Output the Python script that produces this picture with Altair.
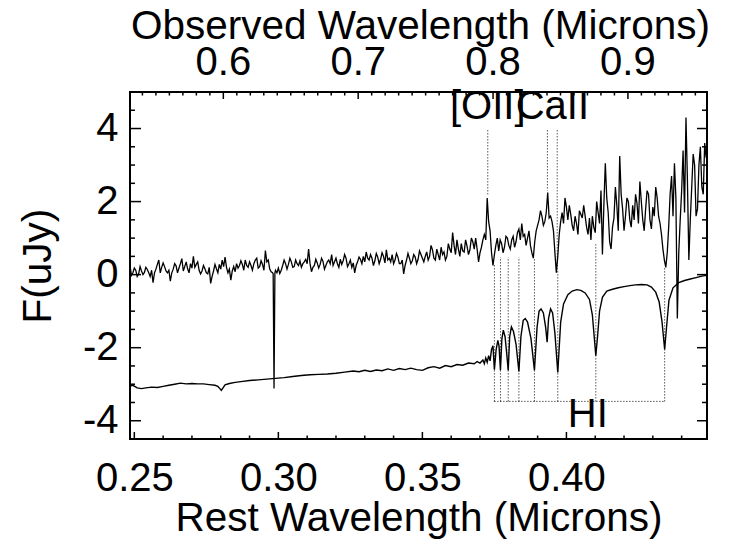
import altair as alt
import pandas as pd

# ---------------- data ----------------
REST_START = 0.2485          # first sample of the observed spectrum (rest microns)
REST_STEP = 0.001            # sampling of the observed spectrum
UPPER_FLUX = [
    0.25, 0.05, 0.12, 0.02, 0.10, 0.06, 0.14, -0.05, -0.22, 0.15,
    0.40, 0.20, 0.22, 0.05, -0.18, 0.15, 0.24, 0.18, 0.44, 0.22,
    0.16, 0.30, 0.50, 0.28, 0.12, 0.10, 0.16, 0.02, -0.24, 0.10,
    0.16, 0.28, 0.40, 0.48, 0.05, -0.15, 0.22, 0.30, 0.25, 0.28,
    0.40, 0.20, 0.25, 0.30, 0.45, 0.22, 0.28, 0.66, 0.40, 0.08,
    -3.12, 0.05, 0.03, 0.25, 0.30, 0.28, 0.35, 0.22, 0.30, 0.38,
    0.30, 0.42, 0.70, 0.08, 0.25, 0.32, 0.28, 0.36, 0.25, 0.40,
    0.55, 0.35, 0.30, 0.42, 0.38, 0.45, 0.30, 0.20, 0.05, 0.35,
    0.42, 0.50, 0.62, 0.40, 0.45, 0.38, 0.48, 0.42, 0.50, 0.68,
    0.45, 0.55, 0.40, 0.48, 0.30, 0.02, 0.40, 0.45, 0.38, 0.48,
    0.42, 0.55, 0.35, 0.62, 0.50, 0.68, 0.40, 0.55, 0.75, 0.62,
    0.50, 0.70, 1.15, 0.55, 0.70, 0.85, 0.62, 0.78, 0.68, 0.90,
    1.00, 0.35, 0.75, 1.10, 2.10, 1.20, 0.25, 0.80, 0.65, 0.85,
    0.75, 1.00, 0.70, 1.05, 0.90, 1.25, 1.40, 1.10, 1.00, 0.80,
    0.45, 1.20, 1.50, 1.60, 1.45, 2.25, 1.60, 1.20, 0.05, 1.10,
    1.70, 2.10, 1.50, 1.65, 1.20, 1.40, 1.75, 1.55, 1.60, 1.10,
    0.95, 1.30, 2.00, 1.40, 0.55, 3.05, 1.70, 0.70, 1.55, 1.90,
    3.25, 1.80, 1.60, 2.00, 1.30, 1.50, 1.95, 2.55, 1.50, 1.80,
    2.20, 1.25, 1.60, 2.10, 1.40, 0.70, 0.20, 1.30, 2.70, 3.05,
    -1.20, 1.50, 3.40, 4.30, 0.40, 2.40, 3.00, 1.80, 3.50, 2.20, 3.20,
]
# samples half-way between the ones above (the spectrum is finely sampled)
UPPER_FLUX_HALF = [
    -0.02, 0.18, -0.05, 0.22, 0.00, 0.20, 0.05, 0.12, 0.05, 0.28,
    0.05, 0.32, 0.10, 0.12, 0.05, 0.30, 0.05, 0.30, 0.10, 0.35,
    0.05, 0.18, 0.20, 0.35, 0.02, 0.25, 0.05, 0.20, -0.05, 0.28,
    0.05, 0.15, 0.22, 0.20, 0.15, 0.10, 0.08, 0.18, 0.38, 0.12,
    0.25, 0.35, 0.12, 0.40, 0.18, 0.38, 0.12, 0.35, 0.15, 0.05,
    0.12, 0.18, 0.12, 0.40, 0.15, 0.45, 0.20, 0.40, 0.25, 0.20,
    0.35, 0.30, 0.30, 0.20, 0.42, 0.18, 0.45, 0.15, 0.35, 0.30,
    0.25, 0.45, 0.20, 0.28, 0.55, 0.22, 0.40, 0.32, 0.25, 0.48,
    0.30, 0.35, 0.45, 0.55, 0.25, 0.58, 0.30, 0.60, 0.32, 0.40,
    0.35, 0.30, 0.58, 0.30, 0.40, 0.25, 0.58, 0.30, 0.55, 0.30,
    0.65, 0.45, 0.50, 0.40, 0.80, 0.45, 0.70, 0.40, 0.55, 0.40,
    0.85, 0.60, 0.80, 0.95, 0.50, 0.65, 0.95, 0.55, 1.00, 0.70,
    0.70, 0.60, 0.95, 0.95, 1.45, 0.60, 0.55, 1.00, 0.95, 0.60,
    1.05, 0.80, 0.95, 0.75, 1.15, 0.95, 1.05, 0.80, 1.20, 0.60,
    0.90, 1.35, 1.75, 1.35, 1.70, 1.55, 1.45, 0.60, 0.50, 1.45,
    1.40, 1.85, 1.90, 1.35, 1.60, 1.10, 1.65, 1.90, 1.30, 1.55,
    1.60, 1.15, 1.70, 2.30, 1.90, 2.10, 0.90, 1.30, 2.40, 1.20,
    2.20, 1.20, 2.10, 1.50, 1.90, 2.20, 1.40, 2.00, 1.20, 2.30,
    1.50, 1.85, 2.40, 1.60, 1.10, 0.40, 0.60, 2.20, 1.60, 2.10,
    0.60, 2.30, 1.70, 2.60, 1.50, 3.30, 1.60, 3.00, 2.40, 3.60,
]
SPIKE_WL = [0.2982, 0.2988]
SPIKE_FLUX = [0.02, 0.04]

LOWER_WL = [
    0.2485, 0.2495, 0.2510, 0.2525, 0.2540, 0.2560, 0.2580, 0.2600, 0.2620, 0.2640,
    0.2660, 0.2680, 0.2700, 0.2720, 0.2740, 0.2760, 0.2780, 0.2790, 0.2797, 0.2802,
    0.2808, 0.2815, 0.2830, 0.2850, 0.2870, 0.2900, 0.2930, 0.2960, 0.2990, 0.3020,
    0.3050, 0.3080, 0.3110, 0.3140, 0.3170, 0.3200, 0.3230, 0.3260, 0.3280, 0.3300,
    0.3320, 0.3340, 0.3360, 0.3380, 0.3400, 0.3420, 0.3440, 0.3460, 0.3480, 0.3500,
    0.3520, 0.3540, 0.3560, 0.3580, 0.3600, 0.3620, 0.3640, 0.3660, 0.3680, 0.3690,
    0.3700, 0.3710, 0.3715, 0.3720, 0.3725, 0.3730, 0.3735, 0.3740, 0.3745, 0.3750,
    0.3756, 0.3762, 0.3766, 0.3771, 0.3776, 0.3781, 0.3787, 0.3792, 0.3798, 0.3803,
    0.3809, 0.3816, 0.3825, 0.3835, 0.3842, 0.3850, 0.3857, 0.3865, 0.3877, 0.3889,
    0.3898, 0.3905, 0.3912, 0.3920, 0.3928, 0.3933, 0.3938, 0.3945, 0.3952, 0.3960,
    0.3970, 0.3980, 0.3990, 0.4005, 0.4020, 0.4036, 0.4050, 0.4065, 0.4080, 0.4090,
    0.4097, 0.4102, 0.4108, 0.4115, 0.4125, 0.4140, 0.4160, 0.4180, 0.4200, 0.4220,
    0.4240, 0.4260, 0.4280, 0.4295, 0.4310, 0.4322, 0.4332, 0.4341, 0.4348, 0.4356,
    0.4370, 0.4390, 0.4410, 0.4430, 0.4450, 0.4470, 0.4488,
]
LOWER_FLUX = [
    -3.05, -3.03, -3.10, -3.12, -3.10, -3.08, -3.09, -3.06, -3.03, -3.00,
    -2.97, -2.99, -2.98, -2.99, -2.99, -3.01, -3.03, -3.06, -3.12, -3.17,
    -3.10, -3.02, -2.98, -2.95, -2.93, -2.90, -2.88, -2.86, -2.84, -2.82,
    -2.79, -2.76, -2.74, -2.73, -2.72, -2.70, -2.67, -2.64, -2.66, -2.62,
    -2.65, -2.61, -2.63, -2.58, -2.62, -2.57, -2.60, -2.56, -2.60, -2.62,
    -2.55, -2.52, -2.56, -2.49, -2.52, -2.46, -2.48, -2.42, -2.44, -2.38,
    -2.42, -2.34, -2.44, -2.28, -2.40, -2.22, -2.36, -2.05, -1.95, -2.60,
    -2.05, -1.80, -1.95, -2.62, -1.75, -1.52, -1.70, -2.10, -2.62, -1.70,
    -1.43, -1.55, -1.90, -2.65, -1.70, -1.25, -1.20, -1.30, -1.75, -2.62,
    -1.45, -1.00, -0.94, -1.05, -1.45, -1.85, -1.20, -0.94, -1.05, -1.60,
    -2.68, -1.30, -0.80, -0.55, -0.45, -0.41, -0.43, -0.50, -0.68, -1.10,
    -1.75, -2.22, -1.70, -1.00, -0.62, -0.45, -0.40, -0.36, -0.33, -0.30,
    -0.28, -0.27, -0.28, -0.34, -0.48, -0.75, -1.30, -2.05, -1.40, -0.70,
    -0.36, -0.22, -0.16, -0.12, -0.08, -0.04, -0.02,
]

# line identifications
TOP_LINE_WL = [0.3727, 0.3934, 0.3968]          # [OII], CaII K, CaII H
TOP_LINE_FROM = [3.95, 3.95, 3.95]
TOP_LINE_TO = [2.20, 2.30, 0.10]
HI_WL = [0.3750, 0.3771, 0.3798, 0.3835, 0.3889, 0.3970, 0.4102, 0.4341]
HI_TOP = [0.30, 0.48, 0.48, 0.48, 0.42, 0.12, 0.85, 0.20]
HI_BASE = -3.47
LABEL_TEXT = ["[OII]", "CaII", "HI"]
LABEL_WL = [0.3727, 0.3951, 0.4074]
LABEL_FLUX = [4.27, 4.27, -4.18]

# axes
X_DOMAIN = [0.2485, 0.4488]
Y_DOMAIN = [-4.5, 5.0]
X_MAJOR = [0.25, 0.30, 0.35, 0.40]
X_MINOR = [0.26, 0.27, 0.28, 0.29, 0.31, 0.32, 0.33, 0.34, 0.36, 0.37,
           0.38, 0.39, 0.41, 0.42, 0.43, 0.44]
OBS_FACTOR = 2.136           # observed / rest wavelength
TOP_MAJOR = [0.6, 0.7, 0.8, 0.9]
TOP_LABELS = ["0.6", "0.7", "0.8", "0.9"]
TOP_MINOR = [0.54, 0.55, 0.56, 0.57, 0.58, 0.59, 0.61, 0.62, 0.63, 0.64, 0.65,
             0.66, 0.67, 0.68, 0.69, 0.71, 0.72, 0.73, 0.74, 0.75, 0.76, 0.77,
             0.78, 0.79, 0.81, 0.82, 0.83, 0.84, 0.85, 0.86, 0.87, 0.88, 0.89,
             0.91, 0.92, 0.93, 0.94, 0.95]
TOP_TITLE = "Observed Wavelength (Microns)"
Y_MAJOR = [-4, -2, 0, 2, 4]
Y_MINOR = [-4.5, -3.5, -3, -2.5, -1.5, -1, -0.5, 0.5, 1, 1.5, 2.5, 3, 3.5, 4.5]

# ---------------- tables ----------------
W, H = 577, 347
FONT = "Liberation Sans"
FS = 40
TFS = 40.5

upper_wl = [round(REST_START + REST_STEP * i, 4) for i in range(len(UPPER_FLUX))]
half_wl = [round(REST_START + REST_STEP * (i + 0.5), 5) for i in range(len(UPPER_FLUX_HALF))]
upper = pd.DataFrame({"wl": upper_wl + half_wl + SPIKE_WL,
                      "flux": UPPER_FLUX + UPPER_FLUX_HALF + SPIKE_FLUX}).sort_values("wl")
lower = pd.DataFrame({"wl": LOWER_WL, "flux": LOWER_FLUX})
top_lines = pd.DataFrame({"wl": TOP_LINE_WL, "y1": TOP_LINE_FROM, "y2": TOP_LINE_TO})
hi_lines = pd.DataFrame({"wl": HI_WL, "y1": [HI_BASE] * len(HI_WL), "y2": HI_TOP})
hi_base = pd.DataFrame({"x1": [HI_WL[0]], "x2": [HI_WL[-1]], "y": [HI_BASE]})
labels = pd.DataFrame({"text": LABEL_TEXT, "wl": LABEL_WL, "flux": LABEL_FLUX})
top_major_pos = [v / OBS_FACTOR for v in TOP_MAJOR]
top_minor_pos = [v / OBS_FACTOR for v in TOP_MINOR]
top_labels = pd.DataFrame({"pos": top_major_pos, "text": TOP_LABELS})
top_title = pd.DataFrame({"text": [TOP_TITLE]})

# inward tick segments on the four sides of the frame (lengths in pixels,
# converted to data units of the perpendicular axis)
Y_PER_PX = (Y_DOMAIN[1] - Y_DOMAIN[0]) / H
X_PER_PX = (X_DOMAIN[1] - X_DOMAIN[0]) / W
rows = []
for vals, length in ((X_MAJOR, 7), (X_MINOR, 3.5)):
    for v in vals:
        rows.append((v, v, Y_DOMAIN[0], Y_DOMAIN[0] + length * Y_PER_PX))
for vals, length in ((top_major_pos, 7), (top_minor_pos, 3.5)):
    for v in vals:
        rows.append((v, v, Y_DOMAIN[1], Y_DOMAIN[1] - length * Y_PER_PX))
for vals, left_len, right_len in ((Y_MAJOR, 11, 10), (Y_MINOR, 5, 5)):
    for v in vals:
        rows.append((X_DOMAIN[0], X_DOMAIN[0] + left_len * X_PER_PX, v, v))
        rows.append((X_DOMAIN[1], X_DOMAIN[1] - right_len * X_PER_PX, v, v))
ticks = pd.DataFrame(rows, columns=["x1", "x2", "y1", "y2"])

xs = alt.Scale(domain=X_DOMAIN, nice=False, zero=False)
ys = alt.Scale(domain=Y_DOMAIN, nice=False, zero=False)

# the same (shared) axis definition is given to every layer, so they merge cleanly
ax_bottom = alt.Axis(orient="bottom", values=X_MAJOR, format=".2f", ticks=False,
                     tickSize=0, labelPadding=19, title="Rest Wavelength (Microns)",
                     titleBaseline="alphabetic", titleY=91)
ax_left = alt.Axis(orient="left", values=Y_MAJOR, labelExpr="'' + datum.value",
                   ticks=False, tickSize=0, labelPadding=12, title="F(uJy)",
                   titleX=-92, titleBaseline="middle")


def X(field):
    return alt.X(field, type="quantitative", scale=xs, axis=ax_bottom)


def Y(field):
    return alt.Y(field, type="quantitative", scale=ys, axis=ax_left)


l_ticks = alt.Chart(ticks).mark_rule(color="black", strokeWidth=1.5).encode(
    x=X("x1"), x2="x2:Q", y=Y("y1"), y2="y2:Q",
)
l_upper = alt.Chart(upper).mark_line(color="black", strokeWidth=1.3, clip=True).encode(
    x=X("wl"), y=Y("flux"),
)
l_lower = alt.Chart(lower).mark_line(color="black", strokeWidth=1.4, clip=True).encode(
    x=X("wl"), y=Y("flux"),
)
dotted = dict(color="black", strokeWidth=1, strokeDash=[1, 2])
l_toplines = alt.Chart(top_lines).mark_rule(**dotted).encode(
    x=X("wl"), y=Y("y1"), y2="y2:Q",
)
l_hilines = alt.Chart(hi_lines).mark_rule(**dotted).encode(
    x=X("wl"), y=Y("y1"), y2="y2:Q",
)
l_hibase = alt.Chart(hi_base).mark_rule(**dotted).encode(
    x=X("x1"), x2="x2:Q", y=Y("y"),
)
txt = dict(font=FONT, color="black", align="center", baseline="alphabetic")
l_text = alt.Chart(labels).mark_text(fontSize=FS, **txt).encode(
    x=X("wl"), y=Y("flux"), text="text:N",
)
# top (observed wavelength) axis labels and title, placed above the frame
l_toplabels = alt.Chart(top_labels).mark_text(fontSize=FS, **txt).encode(
    x=X("pos"), y=alt.value(-17), text="text:N",
)
l_toptitle = alt.Chart(top_title).mark_text(fontSize=TFS, **txt).encode(
    x=alt.value(W / 2 + 2), y=alt.value(-53), text="text:N",
)

chart = (
    alt.layer(l_ticks, l_upper, l_lower, l_toplines, l_hilines, l_hibase, l_text,
              l_toplabels, l_toptitle)
    .properties(width=W, height=H, autosize=alt.AutoSizeParams(type="none"),
                padding={"left": 130, "top": 92, "right": 22, "bottom": 103},
                background="white")
    .configure_view(stroke="black", strokeWidth=2)
    .configure_axis(labelFont=FONT, titleFont=FONT, labelFontSize=FS, titleFontSize=TFS,
                    titleFontWeight="normal", labelColor="black", titleColor="black",
                    grid=False, domain=False, labelFlush=False, labelOverlap=False)
)

chart.save("out.html", embed_options={"renderer": "svg", "actions": False})
